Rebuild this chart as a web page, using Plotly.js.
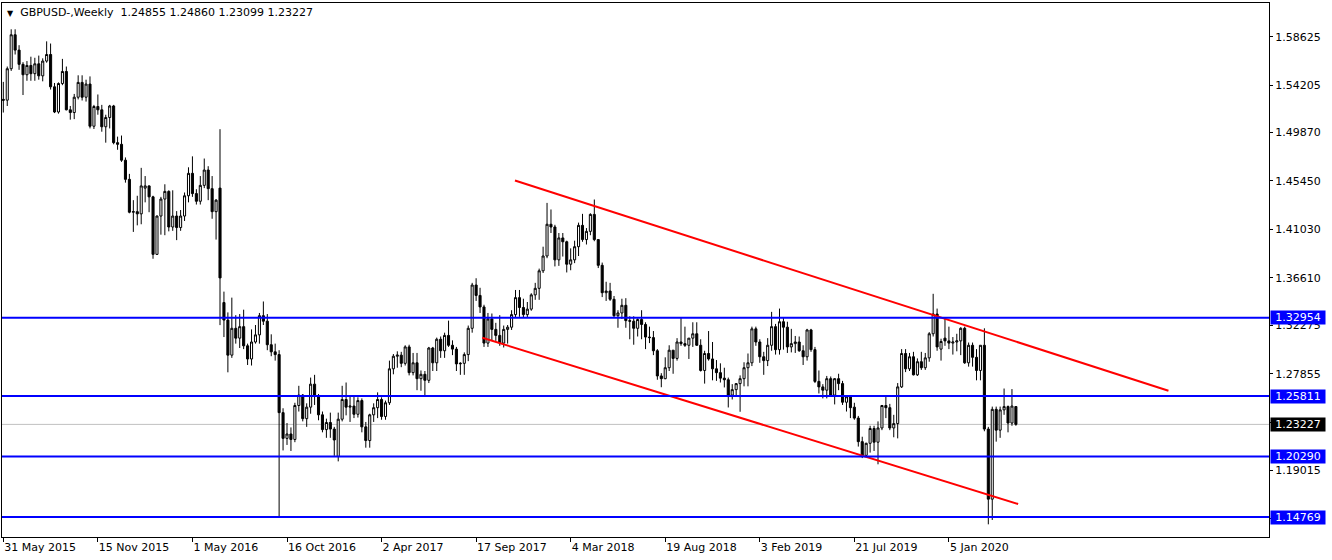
<!DOCTYPE html>
<html><head><meta charset="utf-8">
<script src="https://cdn.plot.ly/plotly-3.0.1.min.js"></script>
<style>html,body{margin:0;padding:0;background:#fff;}#chart{width:1332px;height:560px;}</style>
</head><body><div id="chart"></div>
<script>
const firstWeek = '2015-05-31';
const open = [1.5290,1.5283,1.5570,1.5880,1.5740,1.5610,1.5515,1.5600,1.5525,1.5615,1.5505,1.5640,1.5700,1.5405,1.5175,1.5435,1.5545,1.5195,1.5170,1.5310,
1.5445,1.5310,1.5430,1.5045,1.5225,1.5195,1.5040,1.5125,1.5230,1.4895,1.4880,1.4735,1.4560,1.4260,1.4265,1.4245,1.4480,1.4500,1.4400,1.3875,
1.4225,1.4380,1.4450,1.4125,1.4225,1.4120,1.4225,1.4410,1.4615,1.4430,1.4360,1.4505,1.4645,1.4475,1.4265,1.4480,1.3435,1.3275,1.2955,1.3200,
1.3110,1.3215,1.3040,1.2920,1.3075,1.3140,1.3315,1.3265,1.3050,1.2985,1.2960,1.2430,1.2195,1.2235,1.2185,1.2495,1.2590,1.2375,1.2480,1.2690,
1.2580,1.2410,1.2275,1.2340,1.2280,1.2030,1.2370,1.2550,1.2480,1.2490,1.2415,1.2540,1.2300,1.2175,1.2410,1.2475,1.2550,1.2395,1.2520,1.2830,
1.2945,1.2955,1.2880,1.3030,1.2795,1.2885,1.2740,1.2780,1.2725,1.3020,1.2885,1.3100,1.2995,1.3135,1.3045,1.3010,1.2875,1.2880,1.2960,1.3200,
1.3595,1.3500,1.3395,1.3065,1.3285,1.3190,1.3135,1.3065,1.3190,1.3210,1.3325,1.3480,1.3390,1.3325,1.3375,1.3505,1.3565,1.3725,1.3860,1.4150,
1.4125,1.3825,1.4025,1.3990,1.3785,1.3825,1.3945,1.4140,1.4010,1.4085,1.4240,1.4010,1.3775,1.3525,1.3540,1.3465,1.3315,1.3340,1.3410,1.3270,
1.3265,1.3200,1.3280,1.3235,1.3120,1.3115,1.2995,1.2765,1.2740,1.2840,1.3000,1.2925,1.3075,1.3060,1.3045,1.3110,1.3150,1.3045,1.2815,1.2970,
1.2920,1.2830,1.2795,1.2745,1.2730,1.2590,1.2640,1.2695,1.2740,1.2840,1.2885,1.3195,1.3075,1.2940,1.2905,1.3045,1.3215,1.3005,1.3260,1.3210,
1.3030,1.3060,1.3075,1.2995,1.2940,1.3185,1.3005,1.2715,1.2665,1.2635,1.2740,1.2590,1.2740,1.2695,1.2525,1.2575,1.2480,1.2380,1.2165,1.2040,
1.2150,1.2285,1.2160,1.2290,1.2495,1.2475,1.2290,1.2330,1.2665,1.2970,1.2830,1.2940,1.2775,1.2895,1.2840,1.2930,1.3150,1.3330,1.3010,1.3110,
1.3085,1.3065,1.3075,1.3085,1.3200,1.2885,1.3045,1.2935,1.2815,1.3045,1.2280,1.1640,1.2460,1.2270,1.2455,1.2485,1.2335,1.24855];
const high = [1.5450,1.5590,1.5930,1.5930,1.5785,1.5630,1.5640,1.5680,1.5670,1.5690,1.5665,1.5820,1.5800,1.5440,1.5445,1.5660,1.5590,1.5230,1.5340,1.5510,
1.5510,1.5470,1.5500,1.5240,1.5335,1.5240,1.5150,1.5240,1.5240,1.4950,1.4960,1.4760,1.4610,1.4370,1.4410,1.4665,1.4590,1.4505,1.4410,1.4230,
1.4400,1.4515,1.4460,1.4460,1.4270,1.4280,1.4440,1.4670,1.4770,1.4470,1.4590,1.4750,1.4680,1.4590,1.4380,1.5018,1.3535,1.3345,1.3480,1.3320,
1.3330,1.3370,1.3060,1.3190,1.3230,1.3340,1.3445,1.3330,1.3145,1.3060,1.3000,1.2470,1.2335,1.2295,1.2520,1.2675,1.2600,1.2515,1.2750,1.2775,
1.2600,1.2440,1.2375,1.2430,1.2300,1.2430,1.2675,1.2705,1.2580,1.2580,1.2570,1.2560,1.2345,1.2420,1.2515,1.2615,1.2570,1.2540,1.2905,1.2965,
1.2990,1.2985,1.3045,1.3050,1.2975,1.2975,1.2815,1.2810,1.3030,1.3030,1.3115,1.3125,1.3160,1.3270,1.3090,1.3030,1.2890,1.2980,1.3225,1.3615,
1.3657,1.3570,1.3415,1.3340,1.3335,1.3250,1.3320,1.3225,1.3230,1.3365,1.3550,1.3550,1.3470,1.3440,1.3520,1.3615,1.3745,1.3945,1.4345,1.4285,
1.4145,1.4070,1.4070,1.4000,1.3930,1.4000,1.4165,1.4245,1.4115,1.4250,1.4376,1.4015,1.3800,1.3625,1.3615,1.3495,1.3365,1.3470,1.3475,1.3310,
1.3310,1.3290,1.3365,1.3255,1.3215,1.3175,1.3010,1.2790,1.2935,1.3045,1.3000,1.3110,1.3298,1.3215,1.3110,1.3255,1.3255,1.3100,1.2995,1.3175,
1.3075,1.2910,1.2880,1.2840,1.2750,1.2690,1.2700,1.2770,1.2890,1.2970,1.3215,1.3215,1.3100,1.2985,1.3110,1.3350,1.3240,1.3380,1.3300,1.3260,
1.3195,1.3130,1.3125,1.3045,1.3195,1.3195,1.3030,1.2815,1.2690,1.2765,1.2760,1.2745,1.2785,1.2720,1.2580,1.2580,1.2520,1.2400,1.2210,1.2155,
1.2310,1.2310,1.2350,1.2500,1.2580,1.2510,1.2410,1.2700,1.3010,1.3010,1.2975,1.2985,1.2925,1.2985,1.2975,1.3165,1.3515,1.3380,1.3105,1.3285,
1.3215,1.3120,1.3150,1.3210,1.3215,1.3070,1.3070,1.3010,1.3045,1.3200,1.2300,1.2485,1.2485,1.2485,1.2650,1.2495,1.2645,1.24860];
const low = [1.5170,1.5230,1.5550,1.5700,1.5560,1.5330,1.5460,1.5460,1.5460,1.5470,1.5455,1.5625,1.5380,1.5165,1.5160,1.5420,1.5190,1.5105,1.5110,1.5290,
1.5280,1.5270,1.5025,1.5020,1.5150,1.4995,1.4895,1.5025,1.4880,1.4830,1.4720,1.4530,1.4250,1.4080,1.4140,1.4150,1.4350,1.4260,1.3835,1.3870,
1.4055,1.4050,1.4085,1.4090,1.4005,1.4090,1.4180,1.4350,1.4400,1.4330,1.4330,1.4480,1.4370,1.4200,1.4010,1.3229,1.3120,1.2798,1.2930,1.3060,
1.3020,1.3010,1.2865,1.2860,1.3060,1.3060,1.3230,1.3000,1.2945,1.2905,1.1480,1.2085,1.2135,1.2080,1.2160,1.2440,1.2350,1.2300,1.2420,1.2500,
1.2360,1.2250,1.2200,1.2200,1.2035,1.1985,1.2350,1.2405,1.2345,1.2380,1.2385,1.2250,1.2110,1.2110,1.2345,1.2380,1.2365,1.2365,1.2500,1.2780,
1.2840,1.2845,1.2860,1.2770,1.2770,1.2635,1.2630,1.2590,1.2700,1.2810,1.2810,1.2930,1.2930,1.3030,1.2955,1.2810,1.2775,1.2775,1.2900,1.3160,
1.3450,1.3340,1.3030,1.3030,1.3085,1.3085,1.3040,1.3025,1.3060,1.3185,1.3300,1.3305,1.3300,1.3300,1.3360,1.3460,1.3460,1.3705,1.3840,1.4070,
1.3765,1.3770,1.3855,1.3710,1.3730,1.3795,1.3860,1.3990,1.3965,1.4050,1.3995,1.3750,1.3485,1.3450,1.3450,1.3300,1.3205,1.3285,1.3205,1.3100,
1.3050,1.3125,1.3100,1.3010,1.3065,1.2955,1.2730,1.2662,1.2735,1.2810,1.2785,1.2905,1.3040,1.3030,1.2920,1.3030,1.3040,1.2805,1.2695,1.2905,
1.2725,1.2720,1.2705,1.2660,1.2477,1.2550,1.2590,1.2438,1.2670,1.2670,1.2855,1.3040,1.2885,1.2775,1.2855,1.2995,1.2960,1.2960,1.3005,1.2975,
1.2980,1.2975,1.2985,1.2865,1.2905,1.2985,1.2700,1.2605,1.2560,1.2560,1.2580,1.2505,1.2635,1.2500,1.2440,1.2380,1.2365,1.2120,1.2015,1.2020,
1.2065,1.2080,1.1958,1.2270,1.2380,1.2270,1.2205,1.2195,1.2655,1.2800,1.2810,1.2770,1.2765,1.2820,1.2820,1.2895,1.3125,1.2995,1.2905,1.3040,
1.3010,1.2960,1.2990,1.2955,1.2875,1.2850,1.2850,1.2725,1.2725,1.2260,1.1410,1.1450,1.2165,1.2200,1.2410,1.2250,1.2310,1.23099];
const close = [1.5283,1.5570,1.5880,1.5740,1.5610,1.5515,1.5600,1.5525,1.5615,1.5505,1.5640,1.5700,1.5405,1.5175,1.5435,1.5545,1.5195,1.5170,1.5310,1.5445,
1.5310,1.5430,1.5045,1.5225,1.5195,1.5040,1.5125,1.5230,1.4895,1.4880,1.4735,1.4560,1.4260,1.4265,1.4245,1.4500,1.4500,1.4400,1.3875,1.4225,
1.4380,1.4450,1.4125,1.4225,1.4120,1.4225,1.4410,1.4615,1.4430,1.4360,1.4505,1.4645,1.4475,1.4265,1.4370,1.3660,1.3275,1.2955,1.3200,1.3110,
1.3215,1.3040,1.2920,1.3075,1.3140,1.3315,1.3265,1.3050,1.2985,1.2960,1.2430,1.2195,1.2235,1.2185,1.2495,1.2590,1.2375,1.2480,1.2690,1.2580,
1.2410,1.2275,1.2340,1.2280,1.2180,1.2370,1.2550,1.2480,1.2490,1.2415,1.2540,1.2300,1.2175,1.2410,1.2475,1.2550,1.2395,1.2520,1.2830,1.2945,
1.2955,1.2880,1.3030,1.2795,1.2885,1.2740,1.2780,1.2725,1.3020,1.2885,1.3100,1.2995,1.3135,1.3045,1.3010,1.2875,1.2880,1.2960,1.3200,1.3595,
1.3500,1.3395,1.3065,1.3285,1.3190,1.3135,1.3065,1.3190,1.3210,1.3325,1.3480,1.3390,1.3325,1.3375,1.3505,1.3565,1.3725,1.3860,1.4150,1.4125,
1.3825,1.4025,1.3990,1.3785,1.3825,1.3945,1.4140,1.4010,1.4085,1.4240,1.4010,1.3775,1.3525,1.3540,1.3465,1.3315,1.3340,1.3410,1.3270,1.3265,
1.3200,1.3280,1.3235,1.3120,1.3115,1.2995,1.2765,1.2740,1.2840,1.3000,1.2925,1.3075,1.3060,1.3045,1.3110,1.3150,1.3045,1.2815,1.2970,1.2920,
1.2830,1.2795,1.2745,1.2730,1.2590,1.2640,1.2695,1.2740,1.2840,1.2885,1.3195,1.3075,1.2940,1.2905,1.3045,1.3215,1.3005,1.3260,1.3210,1.3030,
1.3060,1.3075,1.2995,1.2940,1.3185,1.3005,1.2715,1.2665,1.2635,1.2740,1.2590,1.2740,1.2695,1.2525,1.2575,1.2475,1.2380,1.2165,1.2040,1.2150,
1.2285,1.2160,1.2290,1.2495,1.2475,1.2290,1.2330,1.2665,1.2970,1.2830,1.2940,1.2775,1.2895,1.2840,1.2930,1.3150,1.3330,1.3030,1.3080,1.3085,
1.3065,1.3075,1.3085,1.3200,1.2885,1.3045,1.2935,1.2815,1.3045,1.2280,1.1640,1.2460,1.2270,1.2455,1.2485,1.2335,1.2490,1.23227];

const levels = [1.32954, 1.25811, 1.20290, 1.14769];
const upperLineX = ['2017-11-25', '2021-01-29'];
const upperLineY = [1.4550, 1.2630];
const lowerLineX = ['2017-09-28', '2020-05-07'];
const lowerLineY = [1.3114, 1.1596];
const xTickDates = ['2015-05-31','2015-11-15','2016-05-01','2016-10-16','2017-04-02','2017-09-17','2018-03-04','2018-08-19','2019-02-03','2019-07-21','2020-01-05'];
const xTickText = ['31 May 2015','15 Nov 2015','1 May 2016','16 Oct 2016','2 Apr 2017','17 Sep 2017','4 Mar 2018','19 Aug 2018','3 Feb 2019','21 Jul 2019','5 Jan 2020'];
const yTickVals = [1.58625,1.54205,1.49870,1.45450,1.41030,1.36610,1.32275,1.27855,1.23435,1.19015,1.14595];

const t0 = new Date(firstWeek + 'T00:00:00Z').getTime();
const dates = close.map((_, i) => new Date(t0 + i * 7 * 86400000).toISOString().slice(0, 10));
const last = close.length - 1;
const current = close[last];
const FONT = 'DejaVu Sans, Verdana, sans-serif';

const traces = [
  {type: 'candlestick', x: dates, open: open, high: high, low: low, close: close,
   increasing: {line: {color: '#000000', width: 1}, fillcolor: '#ffffff'},
   decreasing: {line: {color: '#000000', width: 1}, fillcolor: '#000000'},
   whiskerwidth: 0, hoverinfo: 'skip', showlegend: false},
  {type: 'scatter', mode: 'lines', x: upperLineX, y: upperLineY,
   line: {color: '#ff0000', width: 2}, hoverinfo: 'skip', showlegend: false},
  {type: 'scatter', mode: 'lines', x: lowerLineX, y: lowerLineY,
   line: {color: '#ff0000', width: 2}, hoverinfo: 'skip', showlegend: false}
];

const shapes = [{type: 'line', xref: 'paper', x0: 0, x1: 1, yref: 'y', y0: current, y1: current,
  line: {color: '#c0c0c0', width: 1}, layer: 'below'}];
levels.forEach(v => shapes.push({type: 'line', xref: 'paper', x0: 0, x1: 1, yref: 'y', y0: v, y1: v,
  line: {color: '#0000ff', width: 2}, layer: 'above'}));

const annotations = [];
function priceLabel(v, bg) {
  annotations.push({xref: 'paper', x: 1, xanchor: 'left', xshift: 1, yref: 'y', y: v, yanchor: 'middle',
    text: v.toFixed(5), showarrow: false, bgcolor: bg, borderpad: 1, width: 52, height: 11,
    font: {family: FONT, size: 11, color: '#ffffff'}});
}
levels.forEach(v => priceLabel(v, '#0000ff'));
priceLabel(current, '#000000');

annotations.push({xref: 'paper', yref: 'paper', x: 0, y: 1, xanchor: 'left', yanchor: 'top', xshift: 3, yshift: -1,
  showarrow: false, align: 'left',
  text: '<span style="font-size:8px">\u25BC</span>\u00a0\u00a0GBPUSD-,Weekly\u00a0\u00a0' +
        [open[last], high[last], low[last], close[last]].map(v => v.toFixed(5)).join('\u00a0'),
  font: {family: FONT, size: 11, color: '#000000'}});

const layout = {
  width: 1332, height: 560,
  margin: {l: 2, r: 63, t: 3, b: 23, pad: 0},
  paper_bgcolor: '#ffffff', plot_bgcolor: '#ffffff',
  boxgap: 0.25,
  showlegend: false,
  font: {family: FONT, size: 11, color: '#000000'},
  xaxis: {type: 'date', range: ['2015-05-28 16:00', '2021-07-26 16:00'],
    rangeslider: {visible: false}, showgrid: false, zeroline: false,
    showline: true, mirror: true, linecolor: '#000000', linewidth: 1,
    ticks: 'outside', ticklen: 4, tickcolor: '#000000', tickwidth: 1,
    tickmode: 'array', tickvals: xTickDates, ticktext: xTickText,
    ticklabelposition: 'outside right',
    tickfont: {family: FONT, size: 11, color: '#000000'}},
  yaxis: {range: [1.12944, 1.61702], side: 'right', showgrid: false, zeroline: false,
    showline: true, mirror: true, linecolor: '#000000', linewidth: 1,
    ticks: 'outside', ticklen: 3, tickcolor: '#000000', tickwidth: 1,
    tickmode: 'array', tickvals: yTickVals, tickformat: '.5f',
    tickfont: {family: FONT, size: 11, color: '#000000'}},
  shapes: shapes,
  annotations: annotations
};

Plotly.newPlot('chart', traces, layout, {staticPlot: true, displayModeBar: false});
</script>
</body></html>
